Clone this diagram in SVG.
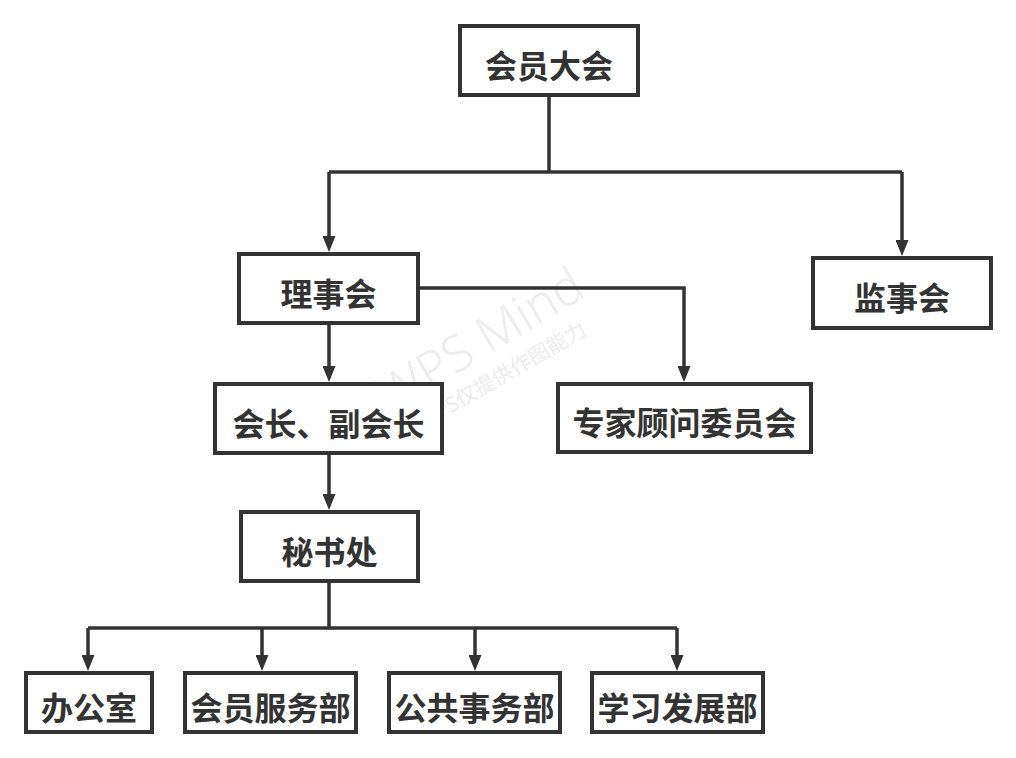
<svg xmlns="http://www.w3.org/2000/svg" width="1016" height="758" viewBox="0 0 1016 758">
<style>
.box{fill:#fff;stroke:#333;stroke-width:4}
.lbl{font-family:"Noto Sans CJK SC","Noto Sans",sans-serif;font-weight:bold;font-size:32px;fill:#333;text-anchor:middle}
.ln{fill:none;stroke:#333;stroke-width:3.5}
.wm{font-family:"Noto Sans","Noto Sans CJK SC",sans-serif;fill:#ececec}
</style>
<defs>
<marker id="ah" markerUnits="userSpaceOnUse" markerWidth="16" markerHeight="13" refX="6" refY="6.5" orient="auto">
<path d="M0,0 L16,6.5 L0,13 z" fill="#333"/>
</marker>
</defs>
<rect width="1016" height="758" fill="#fff"/>
<g id="watermark">
<text class="wm" transform="translate(480,339) rotate(-31)" y="18" text-anchor="middle" font-size="50" font-weight="300">WPS Mind</text>
<text class="wm" transform="translate(584,327) rotate(-30)" y="8" text-anchor="end" font-size="21">WPS仅提供作图能力</text>
</g>
<g id="connectors">
<path class="ln" d="M549,97 V172 M329,172 H902"/>
<path class="ln" d="M329,172 V242" marker-end="url(#ah)"/>
<path class="ln" d="M902,172 V246" marker-end="url(#ah)"/>
<path class="ln" d="M420,288 H684 V372" marker-end="url(#ah)"/>
<path class="ln" d="M329,325 V372" marker-end="url(#ah)"/>
<path class="ln" d="M329,455 V500" marker-end="url(#ah)"/>
<path class="ln" d="M329,583 V628 M88,628 H677"/>
<path class="ln" d="M88,628 V661" marker-end="url(#ah)"/>
<path class="ln" d="M262,628 V661" marker-end="url(#ah)"/>
<path class="ln" d="M475,628 V661" marker-end="url(#ah)"/>
<path class="ln" d="M677,628 V661" marker-end="url(#ah)"/>
</g>
<g id="n1"><rect class="box" x="460" y="26" width="178" height="69"/><text class="lbl" x="549" y="77.5">会员大会</text></g>
<g id="n2"><rect class="box" x="239" y="254" width="179" height="69"/><text class="lbl" x="328.5" y="305.5">理事会</text></g>
<g id="n3"><rect class="box" x="813" y="258" width="178" height="70"/><text class="lbl" x="902" y="310">监事会</text></g>
<g id="n4"><rect class="box" x="558" y="384" width="253" height="68"/><text class="lbl" x="684.5" y="435">专家顾问委员会</text></g>
<g id="n5"><rect class="box" x="215" y="384" width="227" height="69"/><text class="lbl" x="328.5" y="435.5">会长、副会长</text></g>
<g id="n6"><rect class="box" x="241" y="512" width="177" height="69"/><text class="lbl" x="329.5" y="563.5">秘书处</text></g>
<g id="n7"><rect class="box" x="26" y="673" width="126" height="59"/><text class="lbl" x="89" y="719.5">办公室</text></g>
<g id="n8"><rect class="box" x="185" y="673" width="171" height="59"/><text class="lbl" x="270.5" y="719.5">会员服务部</text></g>
<g id="n9"><rect class="box" x="389" y="673" width="171" height="59"/><text class="lbl" x="474.5" y="719.5">公共事务部</text></g>
<g id="n10"><rect class="box" x="592" y="673" width="171" height="59"/><text class="lbl" x="677.5" y="719.5">学习发展部</text></g>
</svg>
